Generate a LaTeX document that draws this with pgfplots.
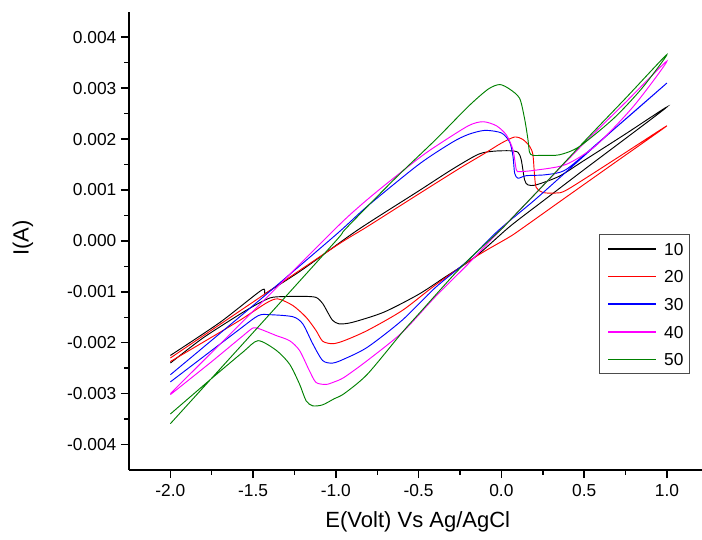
\documentclass[border=0pt]{standalone}
\usepackage{fontspec}
\setmainfont{Liberation Sans}
\usepackage{pgfplots}
\pgfplotsset{compat=1.18}
\definecolor{cgreen}{RGB}{0,128,0}
\definecolor{cred}{RGB}{255,0,0}
\definecolor{cblue}{RGB}{0,0,255}
\definecolor{cmag}{RGB}{255,0,255}
\newcommand{\legline}[1]{\tikz[baseline={(0pt,-4.65pt)}]\fill[fill=#1] (0pt,-0.55pt) rectangle (36pt,0.55pt);\hspace{6pt}}
\begin{document}
\begin{tikzpicture}
\useasboundingbox (-96.75pt,-51.75pt) rectangle (429.75pt,352.5pt);
\begin{axis}[
  at={(0pt,0pt)}, anchor=south west,
  scale only axis, width=429.75pt, height=343.7pt,
  xmin=-2.25, xmax=1.212, ymin=-0.0045, ymax=0.0045,
  axis lines*=left,
  axis line style={line width=1.3pt},
  xtick={-2,-1.5,-1,-0.5,0,0.5,1},
  ytick={-0.004,-0.003,-0.002,-0.001,0,0.001,0.002,0.003,0.004},
  minor x tick num=1, minor y tick num=1,
  tick align=outside,
  major tick length=6pt, minor tick length=3.5pt,
  every tick/.style={line width=1.1pt, black},
  scaled y ticks=false, scaled x ticks=false,
  /pgf/number format/assume math mode=true,
  ticklabel style={font=\fontsize{13}{15}\selectfont},
  xticklabel style={yshift=-1.5pt, /pgf/number format/.cd, fixed, fixed zerofill, precision=1},
  yticklabel style={/pgf/number format/.cd, fixed, fixed zerofill, precision=3},
  xlabel={E(Volt) Vs Ag/AgCl},
  ylabel={I(A)},
  label style={font=\fontsize{16.5}{19}\selectfont},
  xlabel style={at={(axis description cs:0.504,-0.113)}, anchor=center},
  ylabel style={at={(axis description cs:-0.185,0.506)}, anchor=center},
  legend style={at={(rel axis cs:0.979,0.515)}, anchor=north east,
    draw=black!70, line width=0.8pt, inner xsep=2.5pt, inner ysep=3.9pt,
    font=\fontsize{13}{15}\selectfont,
    nodes={inner sep=2pt, text height=9.5pt, text depth=0pt},
    row sep=7.25pt, column sep=2pt},
  legend cell align=left,
  every axis plot/.append style={line width=0.7pt, smooth, tension=0.45},
]
% 10
\addplot[draw=black, forget plot] coordinates {
(-2.00,-0.00225) (-1.70,-0.00160) (-1.45,-0.00097) (-1.43,-0.00103) (-1.40,-0.00098) (-1.20,-0.00056)
(-0.87,0.00021) (-0.50,0.00098) (-0.30,0.00140) (-0.14,0.00170) (-0.05,0.00176)
(0.05,0.00177) (0.10,0.00174) (0.12,0.00159) (0.14,0.00120) (0.16,0.00110)
(0.21,0.00110) (0.35,0.00127) (0.50,0.00158) (0.75,0.00210) (1.00,0.00263)
(0.75,0.00201) (0.50,0.00140) (0.25,0.00078) (0.05,0.00028) (-0.16,-0.00032)
(-0.34,-0.00071) (-0.50,-0.00105) (-0.71,-0.00140) (-0.90,-0.00160) (-0.98,-0.00163)
(-1.02,-0.00156) (-1.05,-0.00140) (-1.08,-0.00123) (-1.12,-0.00111) (-1.20,-0.00109)
(-1.36,-0.00110) (-1.42,-0.00115) (-1.55,-0.00138) (-1.80,-0.00190) (-2.00,-0.00240)
};
% 20
\addplot[draw=cred, forget plot] coordinates {
(-2.00,-0.00230) (-1.50,-0.00120) (-1.00,-0.00010) (-0.81,0.00028) (-0.50,0.00092)
(-0.25,0.00143) (-0.10,0.00172) (0.00,0.00192) (0.08,0.00204) (0.13,0.00199)
(0.17,0.00186) (0.19,0.00170) (0.20,0.00130) (0.21,0.00105) (0.25,0.00095)
(0.33,0.00094) (0.40,0.00101) (0.70,0.00163) (1.00,0.00226)
(0.70,0.00157) (0.40,0.00088) (0.11,0.00021) (0.04,0.00006) (-0.16,-0.00032)
(-0.40,-0.00087) (-0.60,-0.00137) (-0.81,-0.00176) (-0.95,-0.00196) (-1.02,-0.00202)
(-1.08,-0.00197) (-1.12,-0.00176) (-1.18,-0.00150) (-1.26,-0.00127) (-1.35,-0.00114)
(-1.42,-0.00122) (-1.60,-0.00160) (-2.00,-0.00237)
};
% 30
\addplot[draw=cblue, forget plot] coordinates {
(-2.00,-0.00263) (-1.50,-0.00127) (-1.00,0.00012) (-0.81,0.00068) (-0.50,0.00150)
(-0.30,0.00193) (-0.20,0.00209) (-0.10,0.00217) (0.00,0.00212) (0.05,0.00194)
(0.07,0.00166) (0.08,0.00133) (0.10,0.00123) (0.15,0.00128) (0.27,0.00130)
(0.39,0.00140) (0.60,0.00197) (0.80,0.00253) (1.00,0.00310)
(0.70,0.00225) (0.40,0.00138) (0.20,0.00080) (-0.02,0.00020) (-0.20,-0.00038)
(-0.40,-0.00092) (-0.60,-0.00156) (-0.81,-0.00209) (-0.95,-0.00232) (-1.02,-0.00240)
(-1.08,-0.00235) (-1.14,-0.00202) (-1.20,-0.00163) (-1.26,-0.00149) (-1.40,-0.00145)
(-1.47,-0.00147) (-1.60,-0.00178) (-2.00,-0.00277)
};
% 40
\addplot[draw=cmag, forget plot] coordinates {
(-2.00,-0.00300) (-1.50,-0.00138) (-1.00,0.00025) (-0.85,0.00070) (-0.71,0.00108)
(-0.50,0.00162) (-0.40,0.00185) (-0.20,0.00226) (-0.11,0.00234) (-0.03,0.00226)
(0.03,0.00208) (0.07,0.00179) (0.09,0.00140) (0.11,0.00136) (0.21,0.00139)
(0.39,0.00150) (0.57,0.00187) (0.80,0.00265) (1.00,0.00353)
(0.75,0.00272) (0.50,0.00192) (0.25,0.00108) (0.05,0.00040) (-0.06,0.00003)
(-0.20,-0.00045) (-0.40,-0.00110) (-0.60,-0.00180) (-0.81,-0.00235) (-0.95,-0.00268)
(-1.01,-0.00277) (-1.06,-0.00282) (-1.12,-0.00278) (-1.16,-0.00255) (-1.22,-0.00215)
(-1.28,-0.00196) (-1.36,-0.00186) (-1.46,-0.00173) (-1.50,-0.00171) (-1.56,-0.00186)
(-1.75,-0.00237) (-2.00,-0.00302)
};
% 50
\addplot[draw=cgreen, forget plot] coordinates {
(-2.00,-0.00359) (-1.50,-0.00180) (-1.00,0.00000) (-0.94,0.00024) (-0.65,0.00120)
(-0.40,0.00198) (-0.20,0.00264) (-0.08,0.00298) (-0.01,0.00307) (0.05,0.00298)
(0.11,0.00280) (0.14,0.00240) (0.16,0.00200) (0.17,0.00174) (0.19,0.00168) (0.25,0.00168)
(0.35,0.00169) (0.47,0.00185) (0.68,0.00241) (0.85,0.00300) (1.00,0.00366)
(0.75,0.00280) (0.50,0.00195) (0.25,0.00108) (0.05,0.00040) (0.00,0.00023)
(-0.16,-0.00025) (-0.28,-0.00064) (-0.49,-0.00140) (-0.60,-0.00180) (-0.81,-0.00262)
(-0.95,-0.00300) (-1.01,-0.00310) (-1.08,-0.00322) (-1.14,-0.00324) (-1.18,-0.00314)
(-1.22,-0.00281) (-1.28,-0.00242) (-1.36,-0.00215) (-1.47,-0.00196) (-1.56,-0.00218)
(-1.75,-0.00270) (-2.00,-0.00340)
};
\addlegendimage{empty legend}
\addlegendentry{\legline{black}10}
\addlegendimage{empty legend}
\addlegendentry{\legline{cred}20}
\addlegendimage{empty legend}
\addlegendentry{\legline{cblue}30}
\addlegendimage{empty legend}
\addlegendentry{\legline{cmag}40}
\addlegendimage{empty legend}
\addlegendentry{\legline{cgreen}50}
\end{axis}
\end{tikzpicture}
\end{document}
